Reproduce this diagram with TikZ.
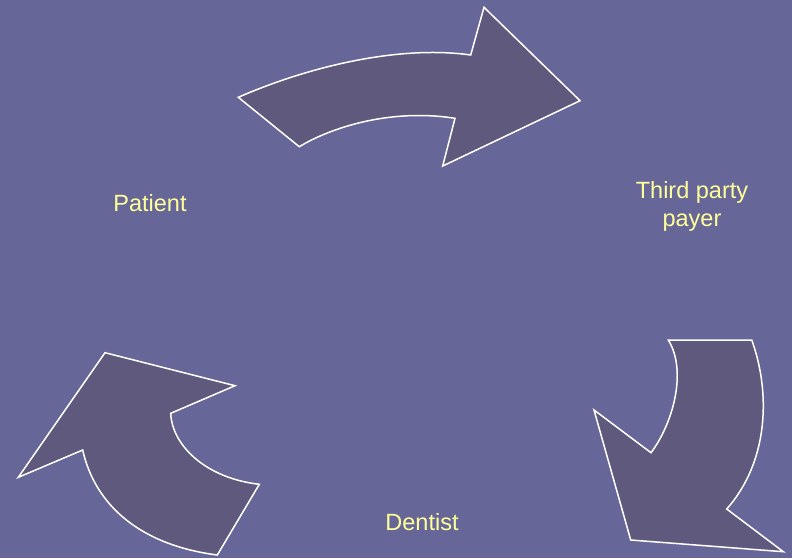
\documentclass[tikz,border=0pt]{standalone}
\usepackage{fontspec}
\setmainfont{Liberation Sans}
\definecolor{slide}{RGB}{102,102,153}
\definecolor{arrowfill}{RGB}{95,89,125}
\definecolor{paleyellow}{RGB}{255,255,153}
\begin{document}
\begin{tikzpicture}[x=1pt, y=-1pt,
  bent/.style={draw=white, line width=1.5pt, fill=arrowfill, line join=miter},
  party/.style={text=paleyellow, font=\fontsize{23.5}{28}\selectfont, align=center}]
    % Slide background
    \fill[slide] (0, 0) rectangle (792, 558);
    \useasboundingbox (0, 0) rectangle (792, 558);

    % Parties
    \node[party] (patient) at (150, 203) {Patient};
    \node[party] (payer) at (692, 206) {Third party\\payer};
    \node[party] (dentist) at (422, 522) {Dentist};

    % Top arrow
    \draw[bent] (238.3, 97.3) -- (299.3, 146.7)
      .. controls (330, 128) and (390, 108) .. (455, 118.3)
      -- (442.7, 166) -- (580, 100.7) -- (484, 7.3) -- (470.7, 55)
      .. controls (400, 45) and (310, 66) .. cycle;

    % Right arrow
    \draw[bent] (668.3, 340) -- (751.7, 340)
      .. controls (770, 390) and (770, 460) .. (726.7, 509)
      -- (783.3, 551.7) -- (630.7, 540) -- (594, 410) -- (651, 452.7)
      .. controls (672, 425) and (688, 372) .. cycle;

    % Left arrow
    \draw[bent] (105, 352.7) -- (235, 385.7) -- (170.7, 413.3)
      .. controls (172, 445) and (205, 478) .. (259.3, 484.3)
      -- (217.3, 555)
      .. controls (140, 545) and (95, 505) .. (82.7, 450)
      -- (18.3, 477.3) -- cycle;
\end{tikzpicture}
\end{document}
